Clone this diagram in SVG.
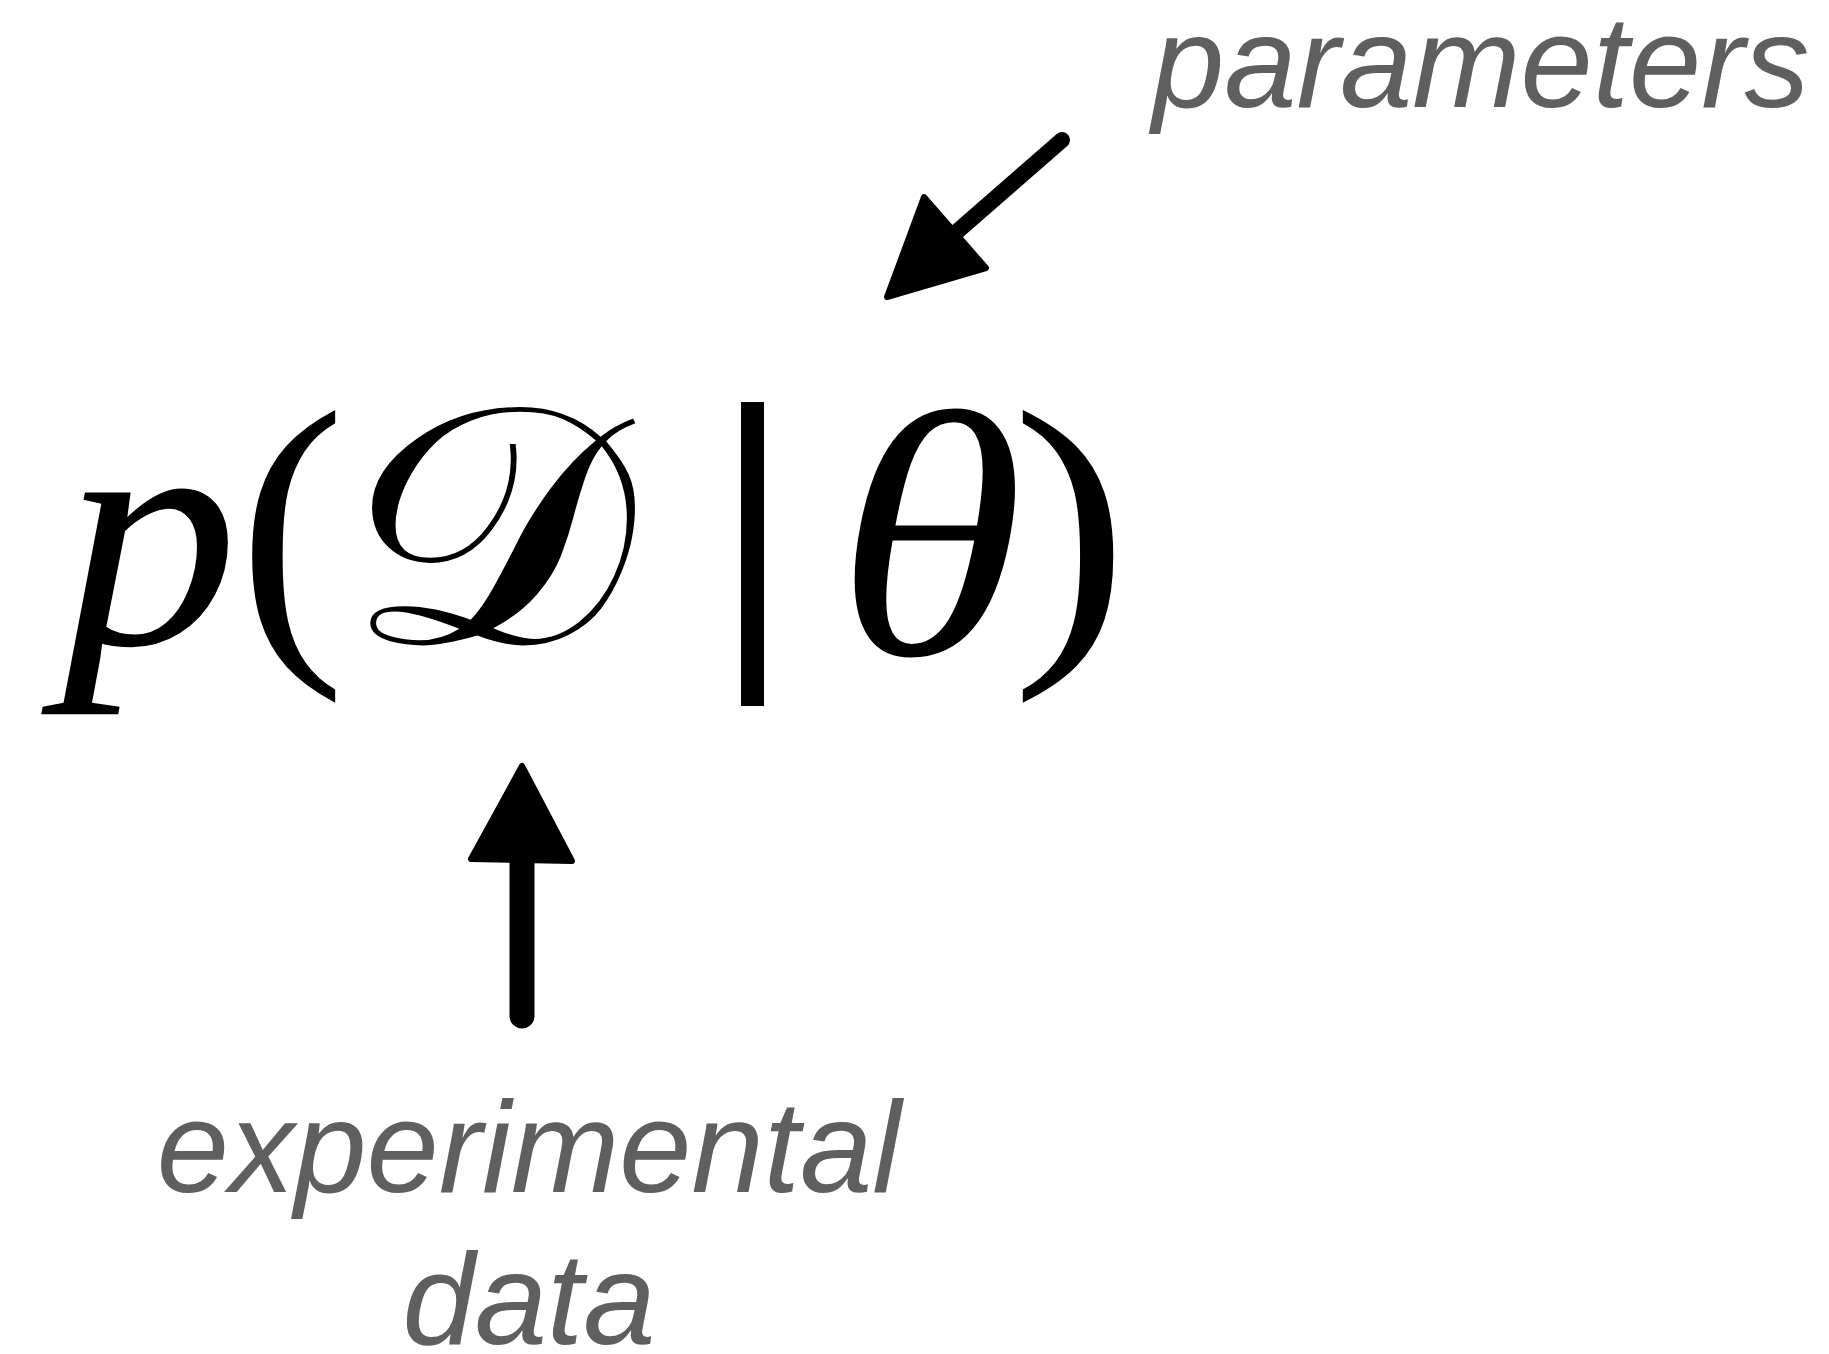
<svg xmlns="http://www.w3.org/2000/svg" width="1829" height="1354" viewBox="0 0 1829 1354">
<style>
.lbl{font-family:"Liberation Sans",Arial,sans-serif;font-style:italic;font-size:130px;fill:#5f5f5f}
.math{font-family:"Liberation Serif","Times New Roman",serif;fill:#000}
.it{font-style:italic}
.arrow{fill:#000;stroke:#000;stroke-linejoin:round;stroke-linecap:round}
</style>
<rect width="1829" height="1354" fill="#fff"/>
<g id="formula">
  <text id="p" class="math it" font-size="330" transform="translate(62,644) scale(1.07,1)" x="0" y="0">p</text>
  <text id="lparen" class="math" font-size="323" x="238" y="634">(</text>
  <text id="D" class="math" font-size="338" transform="translate(344,643) scale(1.08,1)" x="0" y="0" font-family="'DejaVu Serif','Noto Sans',serif">𝒟</text>
  <rect id="bar" x="741" y="402" width="23" height="304" fill="#000"/>
  <text id="theta" class="math" transform="translate(836,654) scale(1.09,1)"><tspan class="it" font-size="351" x="0" y="0">θ</tspan><tspan font-size="323" x="161" y="-20">)</tspan></text>
</g>
<g id="label-parameters">
  <text class="lbl" x="1152" y="107">parameters</text>
</g>
<g id="label-data">
  <text class="lbl" x="529" y="1192" text-anchor="middle">experimental</text>
  <text class="lbl" x="529" y="1344" text-anchor="middle">data</text>
</g>
<g id="connectors">
  <path class="arrow" stroke-width="16" d="M1062,140 L952,236" fill="none"/>
  <path class="arrow" stroke-width="6" d="M887,297 L924,197 L986,268 Z"/>
  <path class="arrow" stroke-width="25" d="M522,1016 L522,858" fill="none"/>
  <path class="arrow" stroke-width="6" d="M522,766 L471,859 L572,861 Z"/>
</g>
</svg>
